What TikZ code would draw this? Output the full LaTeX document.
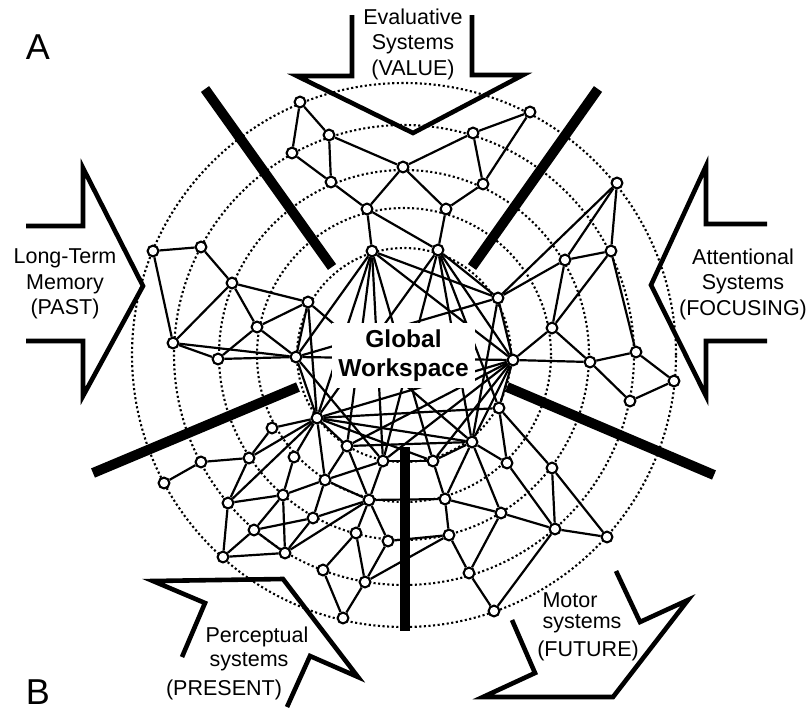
\documentclass[tikz,border=0pt]{standalone}
\usepackage{fontspec}
\setmainfont{Liberation Sans}
\pgfdeclarelayer{bg}
\pgfsetlayers{bg,main}
\begin{document}
\begin{tikzpicture}[x=1pt,y=-1pt,
  nd/.style={circle,draw,line width=2.1pt,fill=white,minimum size=10.8pt,inner sep=0pt},
  ed/.style={line width=2.2pt},
  ring/.style={line width=2.1pt,dash pattern=on 2.1pt off 2.5pt},
  bar/.style={line width=10pt},
  arr/.style={line width=4.6pt,miter limit=10},
  lbl/.style={font=\fontsize{21.5}{25.5}\selectfont,align=center,inner sep=0pt},
  big/.style={font=\fontsize{36}{40}\selectfont,inner sep=0pt}]
\useasboundingbox (0,0) rectangle (811,720);
% nodes: top
\node[nd] (t1) at (300,102) {};
\node[nd] (t2) at (329,135) {};
\node[nd] (t3) at (292,153) {};
\node[nd] (t4) at (331,182) {};
\node[nd] (t5) at (403,167) {};
\node[nd] (t6) at (367,209) {};
\node[nd] (g1) at (372,251) {};
\node[nd] (t8) at (530,112) {};
\node[nd] (t9) at (473,133) {};
\node[nd] (t10) at (483,184) {};
\node[nd] (t11) at (446,209) {};
\node[nd] (g2) at (438,250) {};
% left
\node[nd] (l1) at (153,251) {};
\node[nd] (l2) at (201,247) {};
\node[nd] (l3) at (232,283) {};
\node[nd] (l4) at (308,302) {};
\node[nd] (l5) at (257,327) {};
\node[nd] (l6) at (173,343) {};
\node[nd] (l7) at (218,359) {};
\node[nd] (lg) at (296,357) {};
% right
\node[nd] (r1) at (617,183) {};
\node[nd] (r2) at (565,260) {};
\node[nd] (r3) at (611,251) {};
\node[nd] (rtop) at (498,298) {};
\node[nd] (r4) at (552,328) {};
\node[nd] (rg) at (513,360) {};
\node[nd] (r5) at (590,362) {};
\node[nd] (r6) at (636,352) {};
\node[nd] (r7) at (674,381) {};
\node[nd] (r8) at (630,401) {};
% inner lower
\node[nd] (rb) at (499,408) {};
\node[nd] (gb1) at (472,442) {};
\node[nd] (gb2) at (433,461) {};
\node[nd] (gb3) at (383,461) {};
\node[nd] (gb4) at (347,446) {};
\node[nd] (gl) at (317,418) {};
% lower left
\node[nd] (pa) at (272,428) {};
\node[nd] (pb) at (201,462) {};
\node[nd] (pc) at (249,458) {};
\node[nd] (pd) at (294,457) {};
\node[nd] (pe) at (164,483) {};
\node[nd] (pf) at (325,480) {};
\node[nd] (pg) at (283,495) {};
\node[nd] (ph) at (228,503) {};
\node[nd] (pi) at (369,500) {};
\node[nd] (pj) at (313,518) {};
\node[nd] (pk) at (254,530) {};
\node[nd] (pm) at (356,533) {};
\node[nd] (pn) at (388,541) {};
\node[nd] (po) at (223,557) {};
\node[nd] (pp) at (285,553) {};
\node[nd] (pq) at (323,570) {};
\node[nd] (pr) at (365,582) {};
\node[nd] (ps) at (343,618) {};
% lower right
\node[nd] (qu) at (507,463) {};
\node[nd] (qv) at (552,468) {};
\node[nd] (qw) at (445,499) {};
\node[nd] (qx) at (501,513) {};
\node[nd] (qy) at (449,535) {};
\node[nd] (qz) at (555,529) {};
\node[nd] (qaa) at (607,537) {};
\node[nd] (qbb) at (469,573) {};
\node[nd] (qcc) at (494,611) {};

\begin{pgfonlayer}{bg}
\foreach \r in {107,147,185,230,272} \draw[ring] (404,355) circle[radius=\r pt];
\foreach \a/\b in {t1/t2,t1/t3,t3/t4,t2/t4,t2/t5,t4/t6,t5/t6,t5/t9,t5/t11,t6/g1,t6/g2,
  t8/t9,t8/t10,t9/t10,t10/t11,t11/g2,
  l1/l2,l1/l6,l2/l3,l3/l4,l3/l5,l3/l6,l5/l4,l5/l7,l5/lg,l6/l7,l6/lg,l7/lg,l4/lg,
  r1/rtop,r1/r2,r1/r3,r2/r3,r2/rtop,r2/r4,r3/r4,r3/r6,rtop/rg,r4/rg,r4/r5,rg/r5,
  r5/r6,r5/r8,r6/r7,r7/r8,
  g1/lg,g1/gl,g1/gb4,g1/gb3,g1/gb2,g1/rtop,g1/rg,
  g2/gl,g2/gb3,g2/gb1,g2/rb,g2/rtop,g2/rg,
  lg/rtop,lg/rg,lg/gl,lg/gb3,l4/gl,l4/gb1,
  gl/rg,gl/rb,gl/gb1,gl/gb2,gl/gb4,gb4/gb1,gb4/rg,gb3/gb2,gb3/rg,gb2/rg,gb2/gb1,
  gb1/rtop,gb1/rg,rb/rg,
  pa/gl,pa/pc,pc/gl,pc/pb,pb/pe,pc/ph,pd/gl,pd/pg,ph/pg,ph/po,ph/gl,pg/pf,pg/pk,pg/pp,
  pf/gl,pf/gb4,pf/pj,pf/pi,pf/gb3,pk/pj,pk/po,pk/pp,pj/pp,pj/pi,po/pp,pp/pi,
  pi/gb3,pi/gb4,pi/pm,pi/pn,pi/qw,pm/pq,pm/pr,pn/pr,pn/qy,pq/ps,pr/ps,pr/qy,
  rb/qu,rb/qv,gb1/qw,gb1/qu,gb1/qx,gb2/qw,qu/qz,qv/qz,qv/qaa,qw/qx,qw/qy,
  qx/qz,qx/qbb,qy/qbb,qz/qaa,qz/qcc,qbb/qcc}
  \draw[ed] (\a)--(\b);
\end{pgfonlayer}

% global workspace box
\node[fill=white,minimum width=143pt,minimum height=65pt,inner sep=0pt,align=center,
  font=\fontsize{24.5}{29}\selectfont\bfseries] (gw) at (403.5,355.5) {Global\\Workspace};

% thick bars
\coordinate (b1a) at (205,89);  \coordinate (b1b) at (332,267);
\coordinate (b2a) at (598,89);  \coordinate (b2b) at (472,267);
\coordinate (b3a) at (93,473);  \coordinate (b3b) at (298,387);
\coordinate (b4a) at (507,387); \coordinate (b4b) at (714,475);
\coordinate (b5a) at (405,447); \coordinate (b5b) at (405,631);
\draw[bar] (b1a)--(b1b);
\draw[bar] (b2a)--(b2b);
\draw[bar] (b3a)--(b3b);
\draw[bar] (b4a)--(b4b);
\draw[bar] (b5a)--(b5b);

% arrows
\draw[arr] (352,15)--(352,76)--(297,76)--(413,133)--(523,75)--(472,75)--(472,15);
\draw[arr] (26,226)--(83,226)--(83,168)--(143,286)--(83,396)--(83,341)--(26,341);
\draw[arr] (767,224)--(706,224)--(706,166)--(651,285)--(706,396)--(706,341)--(767,341);
\draw[arr] (182,657)--(205,603)--(153,581)--(283,579)--(358,677)--(310,656)--(287,707);
\draw[arr] (512,620)--(535,673)--(483,697)--(613,697)--(688,600)--(640,622)--(616,571);

% labels
\node[lbl] (tev) at (413,44) {Evaluative\\Systems\\(VALUE)};
\node[lbl] (tlt) at (65,284) {Long-Term\\Memory\\(PAST)};
\node[lbl] (tat) at (743,284) {Attentional\\Systems\\(FOCUSING)};
\node[lbl] (tp1) at (257,637) {Perceptual};
\node[lbl] (tp2) at (249,662) {systems};
\node[lbl] (tp3) at (224,690) {(PRESENT)};
\node[lbl] (tm1) at (570,600) {Motor};
\node[lbl] (tm2) at (582,624) {systems};
\node[lbl] (tm3) at (588,651) {(FUTURE)};
\node[big] (tA) at (38,47) {A};
\node[big] (tB) at (38,692) {B};
\end{tikzpicture}
\end{document}
